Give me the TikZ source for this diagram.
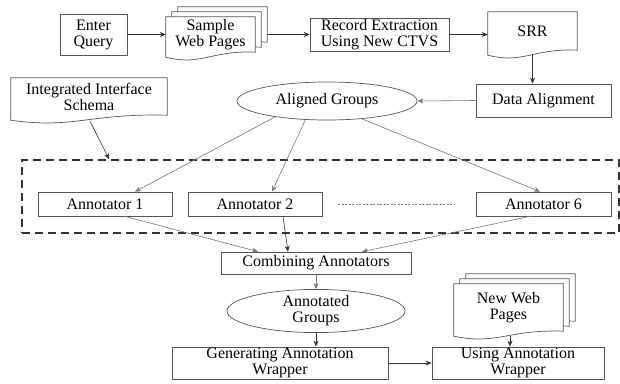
\documentclass[tikz,border=0pt]{standalone}
\usepackage{fontspec}
\setmainfont{Liberation Serif}
\usetikzlibrary{arrows.meta,shapes.geometric,calc,backgrounds}
\definecolor{boxc}{HTML}{555555}
\definecolor{linec}{HTML}{333333}
\definecolor{lightc}{HTML}{777777}
\definecolor{dashc}{HTML}{333333}
\newcommand\lbl{\fontsize{16}{16}\selectfont}
% document outline around a node, shifted by (#2,#3) pt (canvas, y up)
\newcommand\docout[3]{%
  \draw[docline] let \p1=(#1.north west), \p2=(#1.south east), \n1={\x2-\x1} in
    (\x1+#2pt,\y2-5pt+#3pt) -- (\x1+#2pt,\y1+#3pt) -- (\x2+#2pt,\y1+#3pt) -- (\x2+#2pt,\y2+#3pt)
    .. controls (\x2-0.5*\n1+#2pt,\y2+2pt+#3pt) and (\x1+0.4*\n1+#2pt,\y2-14pt+#3pt) .. (\x1+#2pt,\y2-5pt+#3pt) -- cycle;}
\tikzset{
  box/.style={rectangle, draw=boxc, line width=0.7pt, inner sep=0pt, align=center, font=\lbl},
  docnode/.style={rectangle, inner sep=0pt, align=center, font=\lbl},
  docline/.style={draw=boxc, line width=0.7pt, fill=white},
  ell/.style={ellipse, draw=boxc, line width=0.7pt, inner sep=0pt, align=center, font=\lbl},
  conn/.style={draw=linec, line width=0.6pt, -{Stealth[length=6pt,width=5pt]}},
  lconn/.style={conn, draw=lightc},
  dashbox/.style={rectangle, draw=dashc, line width=1.8pt, dash pattern=on 8pt off 5pt, inner sep=0pt}
}
\begin{document}
\begin{tikzpicture}[x=1pt,y=-1pt]
\useasboundingbox (0,0) rectangle (620,383);
% dashed group
\node[dashbox, minimum width=597, minimum height=73] (grp) at (320.5,196.5) {};
% nodes
\node[box, minimum width=67, minimum height=41] (eq) at (93.5,34.5) {Enter\\Query};
\node[docnode, minimum width=89, minimum height=35] (swp) at (210.5,34.5) {Sample\\Web Pages};
\node[box, minimum width=139, minimum height=33] (rec) at (379.5,34.5) {Record Extraction\\Using New CTVS};
\node[docnode, minimum width=89, minimum height=38] (srr) at (532.5,31) {SRR};
\node[box, minimum width=135, minimum height=33] (da) at (543.5,100.5) {Data Alignment};
\node[ell, minimum width=180, minimum height=38] (ag) at (327,101) {Aligned Groups};
\node[docnode, minimum width=156, minimum height=37] (iis) at (89,96.5) {Integrated Interface\\Schema};
\node[box, minimum width=134, minimum height=24] (a1) at (105,204) {Annotator 1};
\node[box, minimum width=134, minimum height=24] (a2) at (255,204) {Annotator 2};
\node[box, minimum width=135, minimum height=24] (a6) at (543.5,204) {Annotator 6};
\node[box, minimum width=190, minimum height=22] (comb) at (316,263) {Combining Annotators};
\node[ell, minimum width=178, minimum height=38] (anng) at (316,311) {Annotated\\Groups};
\node[box, minimum width=216, minimum height=32] (gen) at (280,363) {Generating Annotation\\Wrapper};
\node[box, minimum width=172, minimum height=32] (use) at (518,363) {Using Annotation\\Wrapper};
\node[docnode, minimum width=109, minimum height=47] (nwp) at (508.5,307.5) {New Web\\Pages};
% document outlines
\begin{scope}[on background layer]
  \docout{swp}{12}{10}
  \docout{swp}{6}{5}
  \docout{swp}{0}{0}
  \docout{srr}{0}{0}
  \docout{iis}{0}{0}
  \docout{nwp}{12}{10}
  \docout{nwp}{6}{5}
  \docout{nwp}{0}{0}
\end{scope}
% dotted ellipsis between annotators
\draw[draw=lightc, line width=0.6pt, dash pattern=on 2pt off 1.5pt] ([shift={(16,0)}]a2.east) -- ([shift={(-21,0)}]a6.west);
% connectors
\draw[conn] (eq.east) -- (swp.west);
\draw[conn] ([shift={(12,0)}]swp.east) -- (rec.west);
\draw[conn] (rec.east) -- (rec.east -| srr.west);
\draw[conn] ([shift={(0,5)}]srr.south) -- (srr.south |- da.north);
\draw[lconn] (da.west) -- (ag.east);
\draw[conn] ([shift={(1,6)}]iis.south) -- ([shift={(88,0)}]grp.north west);
\draw[lconn] (ag.197) -- ([shift={(30,0)}]a1.north);
\draw[lconn] (ag.221) -- ([shift={(17,0)}]a2.north);
\draw[lconn] (ag.333) -- ([shift={(-3.5,0)}]a6.north);
\draw[lconn] ([shift={(20,0)}]a1.south) -- ([shift={(-58,0)}]comb.north);
\draw[conn] ([shift={(28,0)}]a2.south) -- ([shift={(-28,0)}]comb.north);
\draw[lconn] ([shift={(-13.5,0)}]a6.south) -- ([shift={(46,0)}]comb.north);
\draw[lconn] (comb.south) -- (anng.north);
\draw[conn] (anng.south) -- (anng.south |- gen.north);
\draw[conn] (gen.east) -- (use.west);
\draw[conn] ([shift={(1.5,5)}]nwp.south) -- ([shift={(1.5,0)}]nwp.south |- use.north);
\end{tikzpicture}
\end{document}
